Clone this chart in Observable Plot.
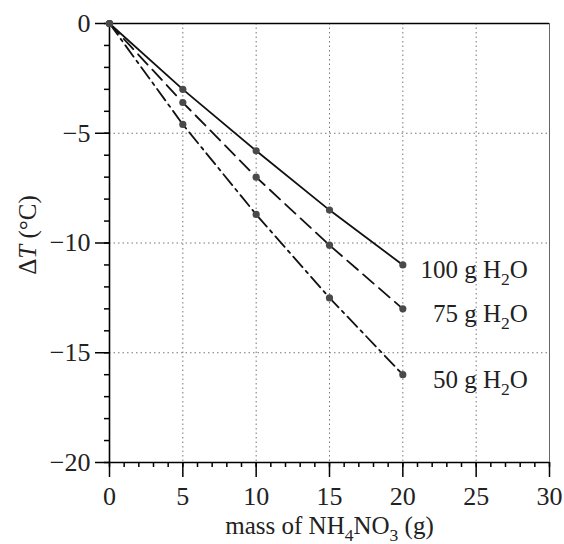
<!DOCTYPE html>
<html><head><meta charset="utf-8">
<script src="https://cdn.jsdelivr.net/npm/d3@7"></script>
<script src="https://cdn.jsdelivr.net/npm/@observablehq/plot@0.6"></script>
<style>body{margin:0;background:#fff}</style>
</head><body><div id="chart"></div>
<script>
// ---- data ----
const masses = [0, 5, 10, 15, 20];
const dT100 = [0, -3.0, -5.8, -8.5, -11.0];
const dT75  = [0, -3.6, -7.0, -10.1, -13.0];
const dT50  = [0, -4.6, -8.7, -12.5, -16.0];
const seriesNames = ["100 g H₂O", "75 g H₂O", "50 g H₂O"];
const xMajor = [0, 5, 10, 15, 20, 25, 30];
const xMinor = d3.range(0, 31, 1);
const yMajor = [-20, -15, -10, -5, 0];
const yMinor = d3.range(-20, 1, 1);
const xGrid = [5, 10, 15, 20, 25];
const yGrid = [-15, -10, -5];
const xLabel = "mass of NH₄NO₃ (g)";
const yLabel = "ΔT (°C)";

// ---- build ----
const seriesValues = [dT100, dT75, dT50];
const dashes = [null, "14,7", "14,5,3,5"];
const rowsFor = (k) => masses.map((m, i) => ({mass: m, dT: seriesValues[k][i], name: seriesNames[k]}));
const allRows = [0, 1, 2].flatMap(rowsFor);
const lastRows = [0, 1, 2].map(k => rowsFor(k)[masses.length - 1]);
const fmt = d => d < 0 ? "\u2212" + Math.abs(d) : String(d);
const FS = 25;
const TFS = 26;
const font = "'Liberation Serif', 'Times New Roman', serif";

const plot = Plot.plot({
  width: 564, height: 544,
  marginLeft: 109, marginRight: 15, marginTop: 23, marginBottom: 82,
  x: {domain: [0, 30]},
  y: {domain: [-20, 0]},
  style: {fontFamily: font, fontSize: FS + "px", background: "white", color: "black"},
  marks: [
    Plot.gridX(xGrid, {stroke: "#777", strokeOpacity: 1, strokeDasharray: "1.5,3", strokeWidth: 1}),
    Plot.gridY(yGrid, {stroke: "#777", strokeOpacity: 1, strokeDasharray: "1.5,3", strokeWidth: 1}),
    Plot.ruleX([30], {stroke: "#666", strokeWidth: 1}),
    Plot.ruleY([0], {stroke: "black", strokeWidth: 1.4}),
    Plot.axisX(xMinor, {tickSize: 5, tickFormat: () => "", strokeWidth: 1.5, label: null}),
    Plot.axisX(xMajor, {tickSize: 15, tickPadding: 9, tickFormat: fmt, strokeWidth: 1.5, label: null, fontSize: TFS, fill: "#222"}),
    Plot.axisY(yMinor, {tickSize: 5, tickFormat: () => "", strokeWidth: 1.5, label: null}),
    Plot.axisY(yMajor, {tickSize: 14, tickPadding: 5, tickFormat: fmt, strokeWidth: 1.5, label: null, fontSize: TFS, fill: "#222"}),
    Plot.ruleX([0], {stroke: "black", strokeWidth: 1.6}),
    Plot.ruleY([-20], {stroke: "black", strokeWidth: 1.6}),
    ...[0, 1, 2].map(k => Plot.line(rowsFor(k), {x: "mass", y: "dT", stroke: "#111", strokeWidth: 1.8, strokeDasharray: dashes[k]})),
    Plot.dot(allRows, {x: "mass", y: "dT", r: 3.6, fill: "#4a4a4a", stroke: "none"}),
    Plot.text(lastRows, {x: "mass", y: "dT", text: "name", textAnchor: "end", dx: 125, dy: 5, fontSize: FS, fill: "#222"}),
    Plot.text([xLabel], {text: d => d, frameAnchor: "bottom", textAnchor: "middle", dy: 71, fontSize: FS, fill: "#222"}),
    Plot.text([yLabel], {text: d => d, frameAnchor: "left", textAnchor: "middle", rotate: -90, dx: -82, dy: -8, fontSize: FS, fill: "#222"})
  ]
});
document.getElementById("chart").appendChild(plot);

// ---- rich text: subscripts and italic T ----
const SUB = {"₀":"0","₁":"1","₂":"2","₃":"3","₄":"4","₅":"5","₆":"6","₇":"7","₈":"8","₉":"9"};
const NS = "http://www.w3.org/2000/svg";
function richify(el) {
  const s = el.textContent;
  if (!/[₀-₉]/.test(s) && !s.includes("ΔT")) return;
  const runs = [];
  const chars = Array.from(s);
  chars.forEach((ch, i) => {
    let kind = SUB[ch] ? "sub" : "norm";
    if (ch === "T" && chars[i - 1] === "Δ") kind = "ital";
    const c = SUB[ch] || ch;
    if (runs.length && runs[runs.length - 1].kind === kind) runs[runs.length - 1].t += c;
    else runs.push({kind, t: c});
  });
  el.textContent = "";
  let shifted = false;
  const off = FS * 0.28;
  for (const r of runs) {
    const ts = document.createElementNS(NS, "tspan");
    if (r.kind === "sub") { ts.setAttribute("font-size", FS * 0.7); ts.setAttribute("dy", off); shifted = true; }
    else if (shifted) { ts.setAttribute("dy", -off); shifted = false; }
    if (r.kind === "ital") ts.setAttribute("font-style", "italic");
    ts.textContent = r.t;
    el.appendChild(ts);
  }
}
plot.querySelectorAll("text").forEach(richify);
</script>
</body></html>
